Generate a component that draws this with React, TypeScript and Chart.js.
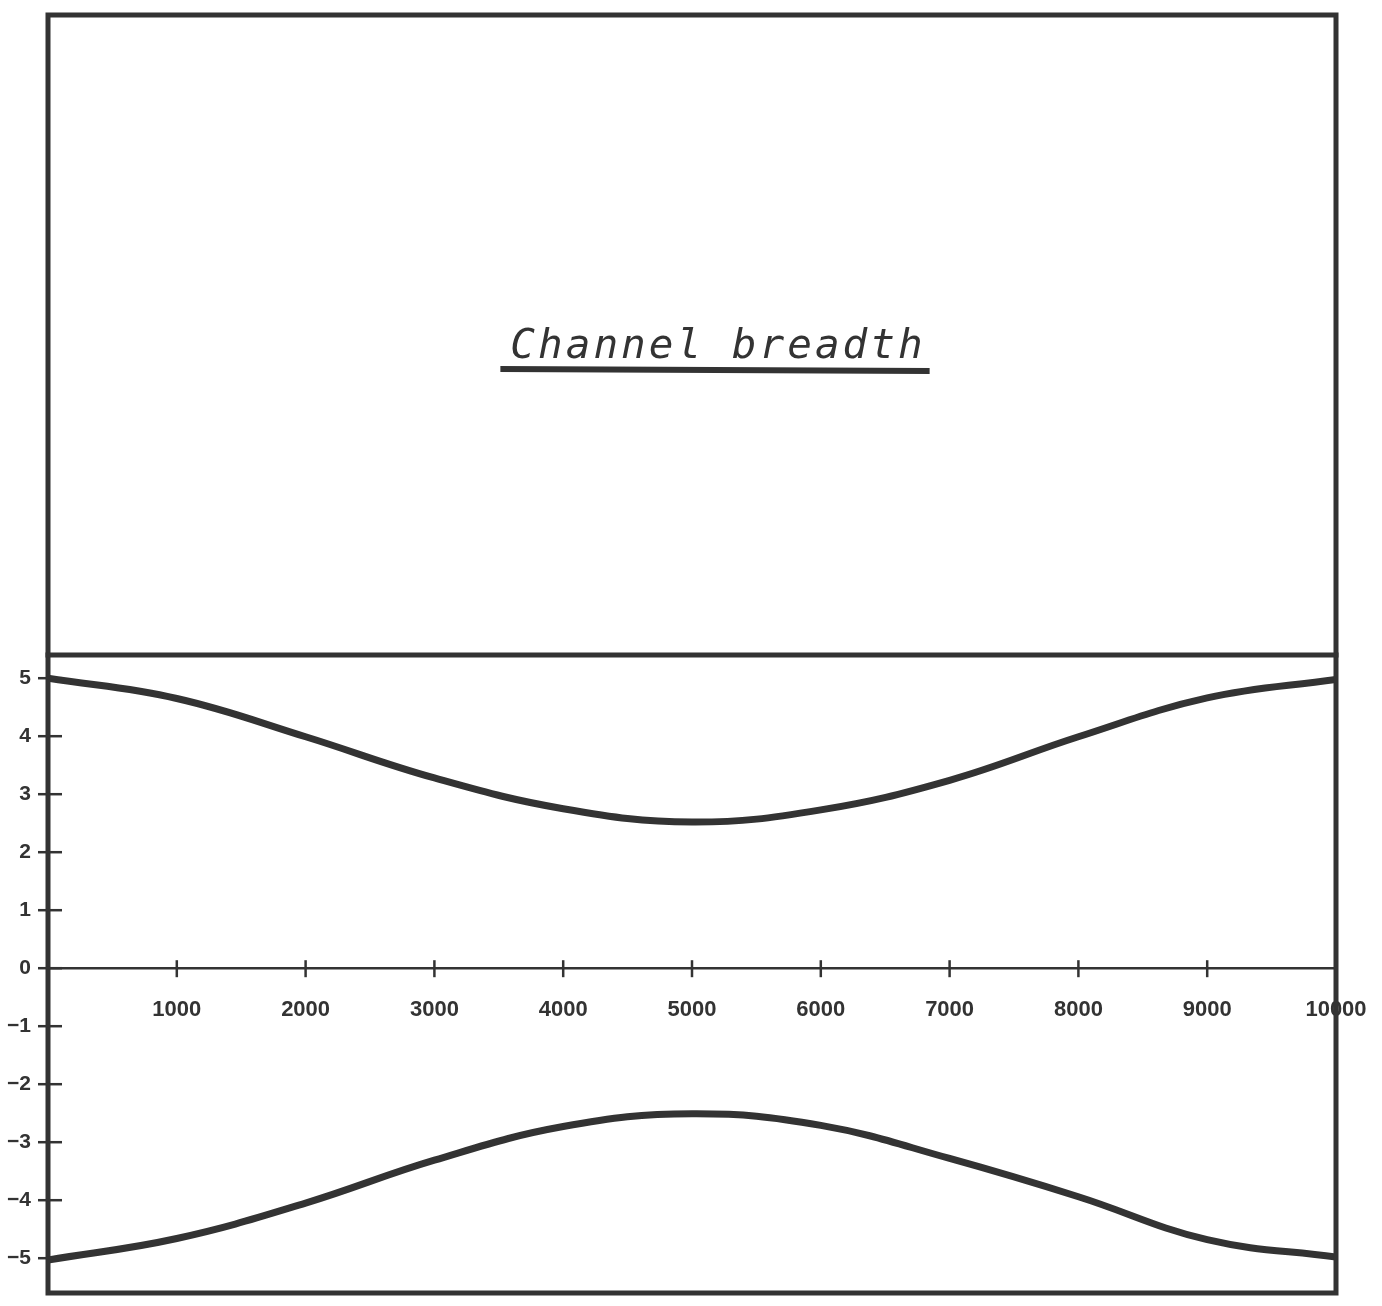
import React, { useEffect, useRef } from 'react';
import { Chart, registerables } from 'chart.js';

Chart.register(...registerables);

const TITLE = 'Channel breadth';
const distance = [0, 1000, 2000, 3000, 4000, 5000, 6000, 7000, 8000, 9000, 10000];
const upperBank = [5.0, 4.65, 3.99, 3.28, 2.75, 2.52, 2.73, 3.24, 3.99, 4.66, 4.98];
const lowerBank = [-5.03, -4.66, -4.05, -3.31, -2.73, -2.51, -2.71, -3.28, -3.94, -4.68, -4.98];
const xTickValues = [1000, 2000, 3000, 4000, 5000, 6000, 7000, 8000, 9000, 10000];
const yTickValues = [-5, -4, -3, -2, -1, 0, 1, 2, 3, 4, 5];

const INK = '#333333';

const framePlugin = {
  id: 'frame',
  afterDraw(chart: any) {
    const { ctx, chartArea, scales } = chart;
    const xs = scales.x;
    const ys = scales.y;
    ctx.save();
    ctx.strokeStyle = INK;
    ctx.lineCap = 'square';
    // outer frame and divider
    ctx.lineWidth = 5;
    ctx.beginPath();
    ctx.rect(chartArea.left, 15, chartArea.right - chartArea.left, chartArea.bottom - 15);
    ctx.stroke();
    ctx.beginPath();
    ctx.moveTo(chartArea.left, chartArea.top);
    ctx.lineTo(chartArea.right, chartArea.top);
    ctx.stroke();
    // tick marks
    ctx.lineWidth = 2.5;
    ctx.lineCap = 'butt';
    const y0 = ys.getPixelForValue(0);
    xTickValues.forEach((v) => {
      if (v >= xs.max) return;
      const px = xs.getPixelForValue(v);
      ctx.beginPath();
      ctx.moveTo(px, y0 - 8);
      ctx.lineTo(px, y0 + 9);
      ctx.stroke();
    });
    yTickValues.forEach((v) => {
      const py = ys.getPixelForValue(v);
      ctx.beginPath();
      ctx.moveTo(chartArea.left - 10, py);
      ctx.lineTo(chartArea.left + 14, py);
      ctx.stroke();
    });
    // title
    ctx.fillStyle = INK;
    ctx.font = 'italic 41px "DejaVu Sans Mono", monospace';
    (ctx as any).letterSpacing = '3px';
    ctx.textAlign = 'center';
    ctx.textBaseline = 'alphabetic';
    const cx = 718;
    ctx.fillText(TITLE, cx, 358);
    const w = ctx.measureText(TITLE).width;
    ctx.lineWidth = 6;
    ctx.beginPath();
    ctx.moveTo(cx - w / 2 - 10, 369);
    ctx.lineTo(cx + w / 2 + 4, 371);
    ctx.stroke();
    ctx.restore();
  },
};

export default function App() {
  const ref = useRef<HTMLCanvasElement | null>(null);
  useEffect(() => {
    document.body.style.margin = '0';
    const canvas = ref.current!;
    const chart = new Chart(canvas, {
      type: 'line',
      data: {
        datasets: [
          {
            label: 'Upper bank',
            data: distance.map((x, i) => ({ x, y: upperBank[i] })),
            borderColor: INK,
            borderWidth: 7,
            pointRadius: 0,
            tension: 0.4,
            fill: false,
          },
          {
            label: 'Lower bank',
            data: distance.map((x, i) => ({ x, y: lowerBank[i] })),
            borderColor: INK,
            borderWidth: 7,
            pointRadius: 0,
            tension: 0.4,
            fill: false,
          },
        ],
      },
      options: {
        responsive: false,
        animation: false,
        devicePixelRatio: 1,
        layout: { padding: { top: 655, bottom: 13, right: 46, left: 0 } },
        plugins: {
          legend: { display: false },
          title: { display: false },
          tooltip: { enabled: false },
        },
        scales: {
          x: {
            type: 'linear',
            position: { y: 0 } as any,
            min: 0,
            max: 10000,
            grid: { display: false },
            border: { display: true, color: INK, width: 2.5 },
            afterFit: (s: any) => {
              s.paddingLeft = 0;
              s.paddingRight = 0;
              s.paddingTop = 0;
              s.paddingBottom = 0;
            },
            afterBuildTicks: (s: any) => {
              s.ticks = xTickValues.map((value) => ({ value }));
            },
            ticks: {
              color: INK,
              padding: 21,
              maxRotation: 0,
              autoSkip: false,
              font: { family: '"Liberation Sans", sans-serif', size: 22, weight: 'bold' },
              callback: (v: any) => String(v),
            },
          },
          y: {
            type: 'linear',
            min: -5.6,
            max: 5.4,
            grid: { display: false },
            border: { display: false },
            afterFit: (s: any) => {
              s.width = 48;
              s.paddingLeft = 0;
              s.paddingRight = 0;
              s.paddingTop = 0;
              s.paddingBottom = 0;
            },
            afterBuildTicks: (s: any) => {
              s.ticks = yTickValues.map((value) => ({ value }));
            },
            ticks: {
              color: INK,
              padding: 9,
              autoSkip: false,
              font: { family: '"Liberation Sans", sans-serif', size: 21, weight: 'bold' },
              callback: (v: any) => String(v).replace('-', '\u2212'),
            },
          },
        },
      },
      plugins: [framePlugin],
    } as any);
    return () => chart.destroy();
  }, []);
  return <canvas ref={ref} width={1382} height={1306} style={{ display: 'block' }} />;
}
